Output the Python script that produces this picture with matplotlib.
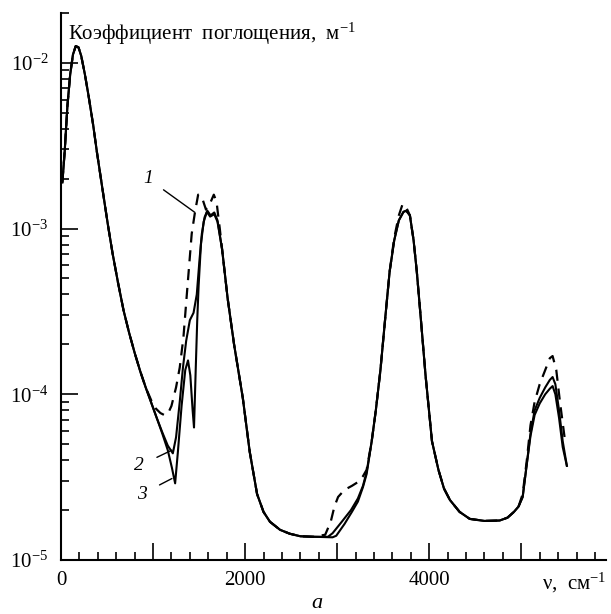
import numpy as np
import matplotlib
matplotlib.use('Agg')
import matplotlib.pyplot as plt
from matplotlib.ticker import MultipleLocator, LogLocator, FuncFormatter, NullFormatter

plt.rcParams['font.family'] = ['Liberation Serif', 'DejaVu Serif']
plt.rcParams['mathtext.fontset'] = 'custom'
plt.rcParams['mathtext.rm'] = 'Liberation Serif'
plt.rcParams['mathtext.it'] = 'Liberation Serif:italic'

# curve 1 (dashed)
nu1 = [15, 40, 70, 100, 130, 160, 190, 220, 260, 300, 350, 390, 450, 510, 560, 620, 680, 740,
       800, 860, 920, 980, 1030, 1080, 1120, 1160, 1200, 1250, 1290, 1330, 1370, 1420, 1455,
       1490, 1530, 1575, 1620, 1660, 1690, 1705, 1725, 1750, 1810, 1880, 1975, 2050, 2130,
       2200, 2270, 2380, 2485, 2600, 2750, 2870, 2930, 2970, 3010, 3080, 3160, 3225, 3280,
       3320, 3375, 3420, 3470, 3520, 3570, 3620, 3670, 3710, 3740, 3790, 3830, 3865, 3910,
       3960, 4030, 4100, 4160, 4225, 4330, 4440, 4600, 4765, 4850, 4920, 4970, 5015, 5060,
       5100, 5145, 5200, 5260, 5310, 5340, 5380, 5420, 5470]
k1 = [1.9e-3, 2.9e-3, 5.5e-3, 8.5e-3, 1.12e-2, 1.26e-2, 1.24e-2, 1.1e-2, 8.5e-3, 6.3e-3,
      4.2e-3, 2.9e-3, 1.74e-3, 1.05e-3, 7.1e-4, 4.7e-4, 3.2e-4, 2.35e-4, 1.78e-4, 1.38e-4,
      1.1e-4, 9.2e-5, 8.2e-5, 7.7e-5, 7.5e-5, 7.6e-5, 8.5e-5, 1.1e-4, 1.45e-4, 2.2e-4,
      4.2e-4, 9.3e-4, 1.25e-3, 1.6e-3, 1.55e-3, 1.3e-3, 1.42e-3, 1.6e-3, 1.45e-3, 1.23e-3,
      1.0e-3, 7.5e-4, 3.8e-4, 2e-4, 9.5e-5, 4.5e-5, 2.5e-5, 1.95e-5, 1.7e-5, 1.52e-5,
      1.44e-5, 1.39e-5, 1.38e-5, 1.42e-5, 1.7e-5, 2.1e-5, 2.4e-5, 2.65e-5, 2.8e-5, 2.95e-5,
      3.2e-5, 3.5e-5, 5.2e-5, 8e-5, 1.4e-4, 2.8e-4, 5.5e-4, 8.8e-4, 1.2e-3, 1.4e-3, 1.38e-3,
      1.2e-3, 8.5e-4, 5.5e-4, 2.8e-4, 1.3e-4, 5.2e-5, 3.5e-5, 2.7e-5, 2.3e-5, 1.95e-5,
      1.77e-5, 1.72e-5, 1.73e-5, 1.8e-5, 1.95e-5, 2.1e-5, 2.5e-5, 4e-5, 6.5e-5, 9e-5,
      1.15e-4, 1.4e-4, 1.65e-4, 1.7e-4, 1.4e-4, 9e-5, 5.5e-5]

# curve 2 (solid)
nu2 = [15, 40, 70, 100, 130, 160, 190, 220, 260, 300, 350, 390, 450, 510, 560, 620, 680, 740,
       800, 860, 920, 980, 1040, 1100, 1160, 1215, 1250, 1290, 1325, 1360, 1400, 1440,
       1475, 1505, 1530, 1560, 1590, 1625, 1665, 1700, 1750, 1810, 1880, 1975, 2050, 2130,
       2200, 2270, 2380, 2485, 2600, 2750, 2900, 2950, 3050, 3150, 3225, 3280, 3320, 3375,
       3420, 3470, 3520, 3570, 3620, 3670, 3720, 3750, 3790, 3830, 3865, 3910, 3960, 4030,
       4100, 4160, 4225, 4330, 4440, 4600, 4765, 4850, 4920, 4970, 5015, 5060, 5100, 5145,
       5200, 5260, 5310, 5340, 5370, 5410, 5450, 5495]
k2 = [1.9e-3, 2.9e-3, 5.5e-3, 8.5e-3, 1.12e-2, 1.26e-2, 1.24e-2, 1.1e-2, 8.5e-3, 6.3e-3,
      4.2e-3, 2.9e-3, 1.74e-3, 1.05e-3, 7.1e-4, 4.7e-4, 3.2e-4, 2.35e-4, 1.78e-4, 1.38e-4,
      1.1e-4, 8.9e-5, 7.2e-5, 5.9e-5, 4.9e-5, 4.4e-5, 5.5e-5, 9e-5, 1.45e-4,
      2.1e-4, 2.8e-4, 3.1e-4, 4e-4, 6.5e-4, 9.3e-4, 1.17e-3, 1.28e-3, 1.2e-3, 1.25e-3,
      1.12e-3, 7.5e-4, 3.8e-4, 2e-4, 9.5e-5, 4.5e-5, 2.5e-5, 1.95e-5, 1.7e-5, 1.52e-5,
      1.44e-5, 1.39e-5, 1.38e-5, 1.38e-5, 1.45e-5, 1.7e-5, 2.0e-5, 2.35e-5, 2.8e-5, 3.4e-5,
      5.2e-5, 8e-5, 1.4e-4, 2.8e-4, 5.5e-4, 8.5e-4, 1.12e-3, 1.26e-3, 1.28e-3, 1.2e-3,
      8.5e-4, 5.5e-4, 2.8e-4, 1.3e-4, 5.2e-5, 3.5e-5, 2.7e-5, 2.3e-5, 1.95e-5, 1.77e-5,
      1.72e-5, 1.73e-5, 1.8e-5, 1.95e-5, 2.1e-5, 2.4e-5, 3.8e-5, 5.8e-5, 8e-5, 9.5e-5,
      1.1e-4, 1.22e-4, 1.27e-4, 1.15e-4, 8e-5, 5.2e-5, 3.7e-5]

# curve 3 (solid)
nu3 = [15, 40, 70, 100, 130, 160, 190, 220, 260, 300, 350, 390, 450, 510, 560, 620, 680, 740,
       800, 860, 920, 980, 1040, 1100, 1160, 1205, 1240, 1270, 1310, 1350, 1380, 1405,
       1430, 1445, 1465, 1480, 1495, 1520, 1550, 1585, 1620, 1665, 1700, 1750, 1810, 1880,
       1975, 2050, 2130, 2200, 2270, 2380, 2485, 2600, 2750, 2950, 2990, 3080, 3160, 3225,
       3280, 3320, 3375, 3420, 3470, 3520, 3570, 3620, 3670, 3720, 3750, 3790, 3830, 3865,
       3910, 3960, 4030, 4100, 4160, 4225, 4330, 4440, 4600, 4765, 4850, 4920, 4970, 5015,
       5060, 5100, 5145, 5200, 5260, 5310, 5340, 5370, 5410, 5450, 5495]
k3 = [1.9e-3, 2.9e-3, 5.5e-3, 8.5e-3, 1.12e-2, 1.26e-2, 1.24e-2, 1.1e-2, 8.5e-3, 6.3e-3,
      4.2e-3, 2.9e-3, 1.74e-3, 1.05e-3, 7.1e-4, 4.7e-4, 3.2e-4, 2.35e-4, 1.78e-4, 1.38e-4,
      1.1e-4, 8.9e-5, 7.2e-5, 5.8e-5, 4.6e-5, 3.6e-5, 2.9e-5, 4.5e-5, 8.5e-5,
      1.4e-4, 1.6e-4, 1.3e-4, 8e-5, 6.3e-5, 1.5e-4, 2.8e-4, 4.5e-4, 8e-4, 1.1e-3, 1.26e-3,
      1.18e-3, 1.22e-3, 1.1e-3, 7.5e-4, 3.8e-4, 2e-4, 9.5e-5, 4.5e-5, 2.5e-5, 1.95e-5,
      1.7e-5, 1.52e-5, 1.44e-5, 1.39e-5, 1.38e-5, 1.37e-5, 1.4e-5, 1.65e-5, 1.95e-5,
      2.25e-5, 2.75e-5, 3.3e-5, 5.2e-5, 8e-5, 1.4e-4, 2.8e-4, 5.5e-4, 8.5e-4, 1.12e-3,
      1.26e-3, 1.28e-3, 1.2e-3, 8.5e-4, 5.5e-4, 2.8e-4, 1.3e-4, 5.2e-5, 3.5e-5, 2.7e-5,
      2.3e-5, 1.95e-5, 1.77e-5, 1.72e-5, 1.73e-5, 1.8e-5, 1.95e-5, 2.1e-5, 2.4e-5, 3.8e-5,
      5.6e-5, 7.5e-5, 8.8e-5, 1.0e-4, 1.08e-4, 1.12e-4, 1.0e-4, 7.2e-5, 4.8e-5, 3.7e-5]

x_labels = {0: '0', 2000: '2000', 4000: '4000'}

fig = plt.figure(figsize=(6.11, 6.14), dpi=100)
ax = fig.add_axes([0.0998, 0.088, 0.892, 0.891])

ax.plot(nu1, k1, color='black', lw=1.6, linestyle=(0, (5, 3.5)))
ax.plot(nu2, k2, color='black', lw=1.5)
ax.plot(nu3, k3, color='black', lw=1.5)

ax.set_yscale('log')
ax.set_xlim(0, 5920)
ax.set_ylim(1e-5, 2e-2)

ax.xaxis.set_major_locator(MultipleLocator(1000))
ax.xaxis.set_minor_locator(MultipleLocator(200))
ax.xaxis.set_major_formatter(FuncFormatter(lambda v, p: x_labels.get(int(round(v)), '')))
ax.yaxis.set_major_locator(LogLocator(base=10))
ax.yaxis.set_minor_locator(LogLocator(base=10, subs=np.arange(2, 10)))
ax.yaxis.set_minor_formatter(NullFormatter())
ax.yaxis.set_major_formatter(FuncFormatter(lambda v, p: r'$10^{%d}$' % round(np.log10(v))))

for s in ['top', 'right']:
    ax.spines[s].set_visible(False)
for s in ['left', 'bottom']:
    ax.spines[s].set_linewidth(1.5)

ax.tick_params(which='major', direction='in', length=12, width=1.2, labelsize=15)
ax.tick_params(which='minor', direction='in', length=6, width=1.2)
ax.tick_params(axis='x', which='major', pad=8)
ax.tick_params(axis='y', which='major', pad=9)

ax.text(0.012, 0.985, 'Коэффициент  поглощения,  м$^{-1}$', transform=ax.transAxes,
        ha='left', va='top', fontsize=15)
ax.text(1.0, -0.02, 'ν,  см$^{-1}$', transform=ax.transAxes, ha='right', va='top', fontsize=15)
ax.text(0.47, -0.08, 'а', transform=ax.transAxes, ha='center', va='center', fontsize=16,
        style='italic')

lbl = dict(fontsize=14, style='italic', ha='center', va='center')
ax.annotate('1', xy=(1455, 1.25e-3), xytext=(945, 2.0e-3),
            arrowprops=dict(arrowstyle='-', lw=1, shrinkA=7, shrinkB=0), **lbl)
ax.annotate('2', xy=(1205, 4.6e-5), xytext=(850, 3.7e-5),
            arrowprops=dict(arrowstyle='-', lw=1, shrinkA=8, shrinkB=0), **lbl)
ax.annotate('3', xy=(1205, 3.1e-5), xytext=(880, 2.5e-5),
            arrowprops=dict(arrowstyle='-', lw=1, shrinkA=8, shrinkB=0), **lbl)

fig.savefig('out.png', dpi=100)
